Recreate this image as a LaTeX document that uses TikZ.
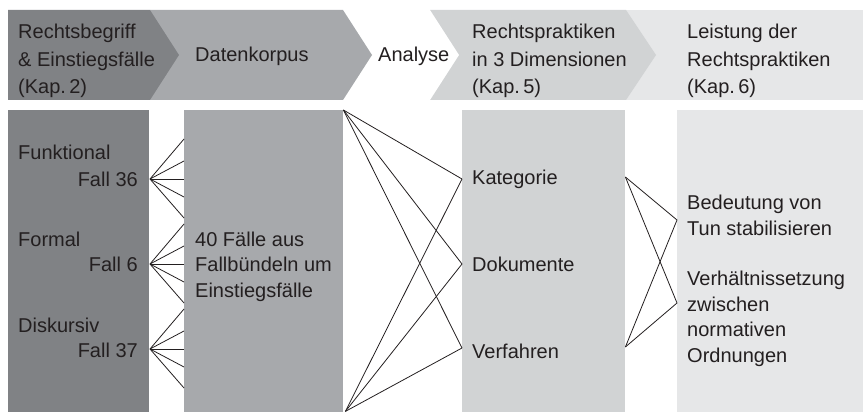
\documentclass[tikz,border=0pt]{standalone}
\usepackage{fontspec}
\setmainfont{Liberation Sans}
\usetikzlibrary{calc}
\definecolor{gA}{HTML}{808285}
\definecolor{gB}{HTML}{A7A9AC}
\definecolor{gC}{HTML}{D1D3D4}
\definecolor{gD}{HTML}{E6E7E8}
\definecolor{ink}{HTML}{231F20}
\begin{document}
\begin{tikzpicture}[x=1pt,y=-1pt,
  txt/.style={inner sep=0pt, text=ink, font=\fontsize{20}{27.5}\selectfont, align=left, anchor=base west},
  btxt/.style={txt, font=\fontsize{20}{25.5}\selectfont},
  box/.style={inner sep=0pt, anchor=north west, minimum height=302pt},
  conn/.style={draw=ink, line width=0.8pt, line join=miter}]
\useasboundingbox (0,0) rectangle (863,412);
% header chevrons
\fill[gD] (626,10) rectangle (863,100);
\fill[gC] (430,10) -- (626,10) -- (656,55) -- (626,100) -- (430,100) -- cycle;
\fill[white] (343,10) -- (430,10) -- (459,55) -- (430,100) -- (343,100) -- cycle;
\fill[gB] (150,10) -- (343,10) -- (372,55) -- (343,100) -- (150,100) -- cycle;
\fill[gA] (8,10) -- (150,10) -- (179,55) -- (150,100) -- (8,100) -- cycle;
% multi-line nodes: base anchor sits on the last line's baseline
\node[txt] (h1) at (18,94) {Rechtsbegriff\\\& Einstiegsfälle\\(Kap.\,2)};
\node[txt] (h2) at (195,62) {Datenkorpus};
\node[txt] (h3) at (378,62) {Analyse};
\node[txt] (h4) at (472,94) {Rechtspraktiken\\in 3 Dimensionen\\(Kap.\,5)};
\node[txt] (h5) at (687,94) {Leistung der\\Rechtspraktiken\\(Kap.\,6)};
% body boxes
\node[box, fill=gA, minimum width=141pt] (b1) at (8,110) {};
\node[box, fill=gB, minimum width=159pt] (b2) at (184,110) {};
\node[box, fill=gC, minimum width=163pt] (b3) at (462,110) {};
\node[box, fill=gD, minimum width=186pt] (b4) at (677,110) {};
% left texts
\node[btxt] (t1) at (18,160) {Funktional};
\node[btxt, anchor=base east] (c1) at (138,186) {Fall 36};
\node[btxt] (t2) at (18,246) {Formal};
\node[btxt, anchor=base east] (c2) at (138,271) {Fall 6};
\node[btxt] (t3) at (18,332) {Diskursiv};
\node[btxt, anchor=base east] (c3) at (138,357) {Fall 37};
\node[btxt] (m) at (195,297) {40 Fälle aus\\Fallbündeln um\\Einstiegsfälle};
\node[btxt] (k1) at (472,184) {Kategorie};
\node[btxt] (k2) at (472,271) {Dokumente};
\node[btxt] (k3) at (472,358) {Verfahren};
\node[btxt] (r1) at (687,235) {Bedeutung von\\Tun stabilisieren};
\node[btxt] (r2) at (687,362) {Verhältnissetzung\\zwischen\\normativen\\Ordnungen};
% fans
\foreach \a/\yy in {f1/179, f2/264, f3/349} {
  \coordinate (\a) at (150,\yy);
  \foreach \d [count=\i] in {-40,-18,0,18,39} {
    \coordinate (\a e\i) at ($(b2.north west |- \a)+(0,\d)$);
    \draw[conn] (\a) -- (\a e\i);
  }
}
% analysis lines
\coordinate (p1) at (b3.west |- 0,179);
\coordinate (p2) at (b3.west |- 0,264);
\coordinate (p3) at (b3.west |- 0,348);
\foreach \p in {p1,p2,p3} {
  \draw[conn] (b2.north east) -- (\p);
  \draw[conn] ($(b2.south east)+(2,-1)$) -- (\p);
}
% right crossing
\coordinate (q1) at (b3.east |- 0,177);
\coordinate (q2) at (b3.east |- 0,347);
\coordinate (s1) at (b4.west |- 0,220);
\coordinate (s2) at (b4.west |- 0,303);
\draw[conn] (q1) -- (s1) -- (q2);
\draw[conn] (q1) -- (s2) -- (q2);
\end{tikzpicture}
\end{document}
